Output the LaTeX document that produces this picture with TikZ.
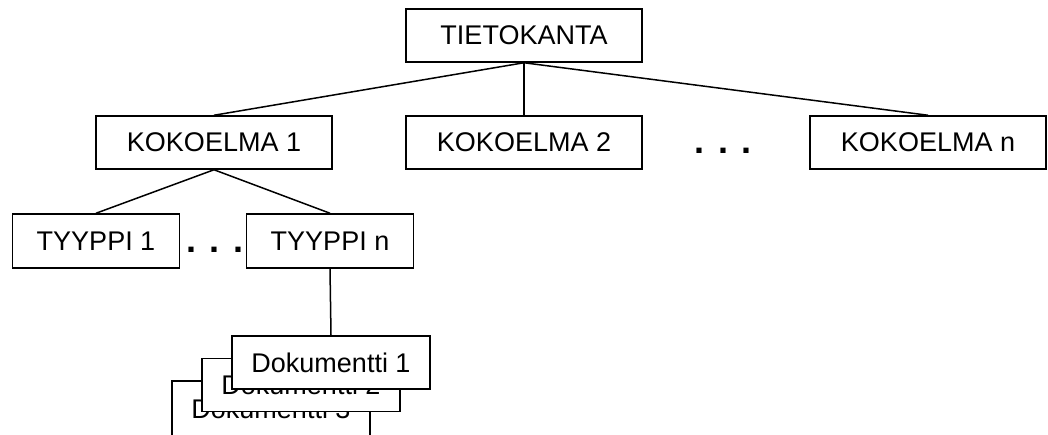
\documentclass[tikz,border=0pt]{standalone}
\usepackage{fontspec}
\setmainfont{Liberation Sans}
\begin{document}
\begin{tikzpicture}[x=1pt,y=-1pt,
  label font/.style={font=\fontsize{27}{32}\selectfont},
  box/.style={draw,line width=1.5pt,fill=white,inner sep=0pt,label font},
  topbox/.style={box,minimum width=236,minimum height=53},
  colbox/.style={box,minimum width=236,minimum height=53},
  typebox/.style={box,minimum width=167,minimum height=54},
  docbox/.style={box,minimum width=198,minimum height=53},
  more/.style={inner sep=0pt,font=\bfseries\fontsize{36}{40}\selectfont},
  link/.style={line width=1.5pt}]
\useasboundingbox (0,0) rectangle (1048,434);
% database root
\node[topbox] (db) at (524,35.5) {TIETOKANTA};
% collections
\node[colbox] (k1) at (214,142.5) {KOKOELMA 1};
\node[colbox] (k2) at (524,142.5) {KOKOELMA 2};
\node[colbox] (kn) at (928,142.5) {KOKOELMA n};
\node[more,anchor=base] (kdots) at (723,153) {. . .};
% types of collection 1
\node[typebox] (t1) at (96,241) {TYYPPI 1};
\node[typebox] (tn) at (330,241) {TYYPPI n};
\node[more,anchor=base] (tdots) at (215,252) {. . .};
% documents, stacked back to front
\node[docbox,minimum height=60] (d3) at (271,411) {};
\node[inner sep=0pt,label font] (d3t) at (271,409) {Dokumentti 3};
\node[docbox] (d2) at (301,385) {Dokumentti 2};
\node[docbox] (d1) at (331,362.5) {Dokumentti 1};
% tree connectors
\draw[link] (db.south) -- (k1.north);
\draw[link] (db.south) -- (k2.north);
\draw[link] (db.south) -- (kn.north);
\draw[link] (k1.south) -- (t1.north);
\draw[link] (k1.south) -- (tn.north);
\draw[link] (tn.south) -- (d1.north);
\end{tikzpicture}
\end{document}
